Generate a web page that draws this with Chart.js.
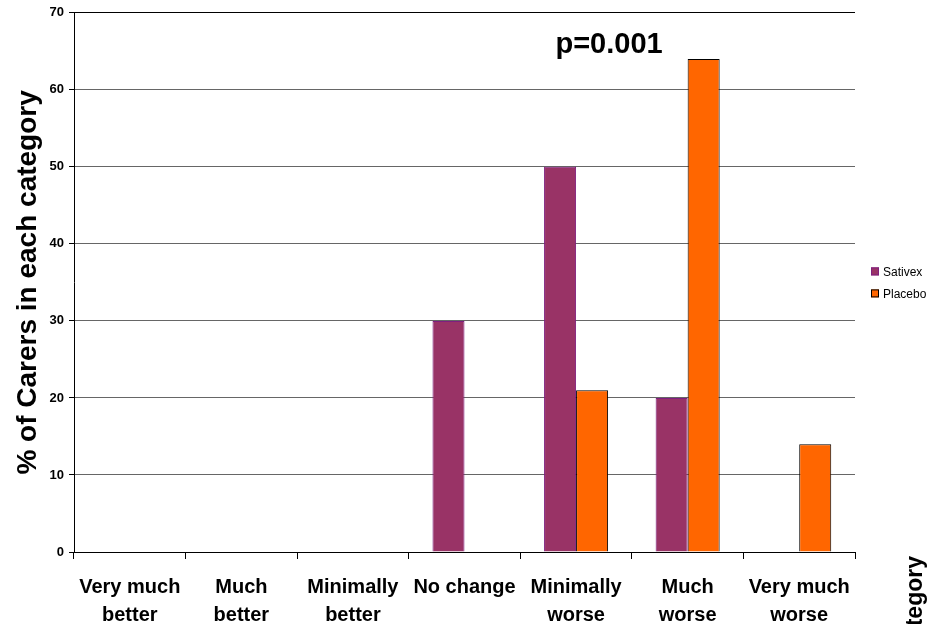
<!DOCTYPE html>
<html>
<head>
<meta charset="utf-8">
<script src="https://cdn.jsdelivr.net/npm/chart.js@4"></script>
<style>
  html, body { margin: 0; padding: 0; background: #fff; }
  #wrap { width: 931px; height: 627px; }
</style>
</head>
<body>
<div id="wrap"><canvas id="carersChart"></canvas></div>
<script>
const categories = [
  ['Very much', 'better'],
  ['Much', 'better'],
  ['Minimally', 'better'],
  'No change',
  ['Minimally', 'worse'],
  ['Much', 'worse'],
  ['Very much', 'worse']
];
const sativex = [0, 0, 0, 30, 50, 20, 0];
const placebo = [0, 0, 0, 0, 21, 64, 14];
const yTicks = [0, 10, 20, 30, 40, 50, 60, 70];
const pLabel = 'p=0.001';
const xTitle = 'Category';

const FONT = '"Liberation Sans", Arial, sans-serif';

// legend, p value and the (clipped) axis title on the right
const extras = {
  id: 'extras',
  afterDraw(chart) {
    const c = chart.ctx;
    const area = chart.chartArea;
    const x = chart.scales.x, y = chart.scales.y;
    c.save();

    // p value
    c.fillStyle = '#000';
    c.font = 'bold 29px ' + FONT;
    c.textAlign = 'center';
    c.textBaseline = 'middle';
    c.fillText(pLabel, x.getPixelForValue(4) + 33, y.getPixelForValue(65.8));

    // legend
    const mid = (area.top + area.bottom) / 2;
    c.font = '12px ' + FONT;
    c.textAlign = 'left';
    chart.data.datasets.forEach((ds, i) => {
      const cy = mid - 11 + i * 22;
      const bx = area.right + 16;
      c.fillStyle = ds.backgroundColor;
      c.fillRect(bx, cy - 4, 8, 8);
      c.strokeStyle = ds.borderColor;
      c.lineWidth = 1;
      c.strokeRect(bx + 0.5, cy - 3.5, 7, 7);
      c.fillStyle = '#000';
      c.fillText(ds.label, bx + 12, cy + 1);
    });

    // x axis title, rotated and cut off at the bottom edge
    c.beginPath();
    c.rect(0, 0, chart.width, 624);
    c.clip();
    c.translate(922, 556);
    c.rotate(-Math.PI / 2);
    c.font = 'bold 23px ' + FONT;
    c.textAlign = 'right';
    c.textBaseline = 'alphabetic';
    c.fillText(xTitle, 0, 0);
    c.restore();
  }
};

new Chart(document.getElementById('carersChart'), {
  type: 'bar',
  data: {
    labels: categories,
    datasets: [
      {
        label: 'Sativex',
        data: sativex,
        backgroundColor: '#993366',
        borderColor: '#7f1f7f',
        borderWidth: 1,
        borderSkipped: 'bottom'
      },
      {
        label: 'Placebo',
        data: placebo,
        backgroundColor: '#ff6600',
        borderColor: '#000000',
        borderWidth: 1,
        borderSkipped: 'bottom'
      }
    ]
  },
  options: {
    responsive: true,
    maintainAspectRatio: false,
    animation: false,
    categoryPercentage: 0.574,
    barPercentage: 1.0,
    layout: { padding: { top: 12, right: 76, left: 0, bottom: 0 } },
    plugins: {
      legend: { display: false },
      tooltip: { enabled: false }
    },
    scales: {
      x: {
        afterFit: s => { s.height = 75; },
        grid: {
          offset: true,
          drawOnChartArea: false,
          drawTicks: true,
          tickLength: 7,
          color: '#000'
        },
        border: { color: '#000', width: 1 },
        ticks: {
          color: '#000',
          padding: 14,
          maxRotation: 0,
          autoSkip: false,
          font: { family: FONT, size: 20, weight: 'bold', lineHeight: 1.4 }
        }
      },
      y: {
        min: 0,
        max: 70,
        afterFit: s => { s.width = 74; },
        afterBuildTicks: s => { s.ticks = yTicks.map(v => ({ value: v })); },
        grid: {
          color: ctx => (ctx.tick && ctx.tick.value === 70 ? '#000' : '#666666'),
          tickColor: '#000',
          tickLength: 5,
          lineWidth: 1
        },
        border: { color: '#000', width: 1 },
        ticks: {
          color: '#000',
          padding: 5,
          font: { family: FONT, size: 13, weight: 'bold' }
        },
        title: {
          display: true,
          text: '% of Carers in each category',
          color: '#000',
          padding: { top: 11, bottom: 0 },
          font: { family: FONT, size: 28, weight: 'bold' }
        }
      }
    }
  },
  plugins: [extras]
});
</script>
</body>
</html>
